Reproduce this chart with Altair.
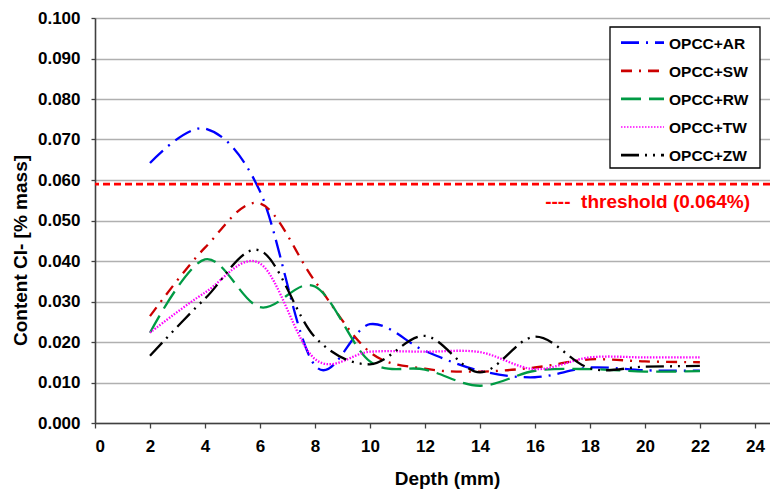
import altair as alt
import pandas as pd

# ---- data ----
depth = [2, 4, 6, 8, 10, 12, 14, 16, 18, 20, 22]
series_names = ["OPCC+AR", "OPCC+SW", "OPCC+RW", "OPCC+TW", "OPCC+ZW"]
ar = [0.0642, 0.0727, 0.0572, 0.0142, 0.0244, 0.0178, 0.0129, 0.0113, 0.0137, 0.0130, 0.0129]
sw = [0.0264, 0.0433, 0.0542, 0.0350, 0.0175, 0.0134, 0.0127, 0.0137, 0.0157, 0.0152, 0.0150]
rw = [0.0223, 0.0404, 0.0286, 0.0337, 0.0152, 0.0132, 0.0092, 0.0129, 0.0133, 0.0127, 0.0128]
tw = [0.0223, 0.0322, 0.0394, 0.0158, 0.0176, 0.0176, 0.0175, 0.0133, 0.0162, 0.0162, 0.0162]
zw = [0.0166, 0.0307, 0.0426, 0.0212, 0.0145, 0.0215, 0.0125, 0.0213, 0.0135, 0.0139, 0.0141]
threshold_value = 0.059
threshold_label = "----\u00a0 threshold (0.064%)"
x_ticks = [0, 2, 4, 6, 8, 10, 12, 14, 16, 18, 20, 22, 24]
y_ticks = [0.0, 0.01, 0.02, 0.03, 0.04, 0.05, 0.06, 0.07, 0.08, 0.09, 0.1]

rows = []
for name, vals in zip(series_names, [ar, sw, rw, tw, zw]):
    for d, v in zip(depth, vals):
        rows.append({"series": name, "depth": d, "value": v})
df = pd.DataFrame(rows)

# ---- styles ----
FONT = "Liberation Sans"
colors = ["#0000FF", "#CC0000", "#009A44", "#FF00FF", "#000000"]
dashes = [[18, 7, 2, 7], [11, 7, 2, 7], [20, 8], [1.5, 1.5], [18, 6, 2, 6, 2, 6]]
widths = [2.3, 2.3, 2.5, 1.0, 2.3]

x_scale = alt.Scale(domain=[0, 24.55], nice=False, zero=False)
y_scale = alt.Scale(domain=[0, 0.1], nice=False)

lines = alt.Chart(df).mark_line(interpolate="cardinal", strokeCap="butt").encode(
    x=alt.X("depth:Q", scale=x_scale,
            axis=alt.Axis(values=x_ticks, format="d", title="Depth (mm)", grid=False,
                          labelFontSize=17, labelFontWeight="bold", labelFont=FONT,
                          labelPadding=10, tickSize=5, labelColor="#000000",
                          titleFontSize=19, titleFontWeight="bold", titleFont=FONT,
                          titleX=352, titleY=61, titleBaseline="alphabetic",
                          titleAlign="center", titleColor="#000000")),
    y=alt.Y("value:Q", scale=y_scale,
            axis=alt.Axis(values=y_ticks, format=".3f", title="Content Cl- [% mass]",
                          grid=True, gridColor="#B0B0B0", gridWidth=1.5,
                          labelFontSize=17, labelFontWeight="bold", labelFont=FONT,
                          labelPadding=11, tickSize=4, labelColor="#000000",
                          titleFontSize=19, titleFontWeight="bold", titleFont=FONT,
                          titleAngle=270, titleX=-75, titleY=232, titleAlign="center",
                          titleBaseline="middle", titleColor="#000000")),
    color=alt.Color("series:N", scale=alt.Scale(domain=series_names, range=colors), legend=None),
    strokeDash=alt.StrokeDash("series:N", scale=alt.Scale(domain=series_names, range=dashes), legend=None),
    strokeWidth=alt.StrokeWidth("series:N", scale=alt.Scale(domain=series_names, range=widths), legend=None),
    detail="series:N",
)

thr = alt.Chart(pd.DataFrame({"t": [threshold_value]})).mark_rule(
    color="#FF0000", strokeWidth=2.7, strokeDash=[7, 4]
).encode(y=alt.Y("t:Q", scale=y_scale))

thr_text = alt.Chart(pd.DataFrame({"label": [threshold_label]})).mark_text(
    align="right", baseline="alphabetic", font=FONT, fontSize=19, fontWeight="bold", color="#FF0000"
).encode(x=alt.value(655), y=alt.value(190), text="label:N")

box = alt.Chart(pd.DataFrame({"b": [1]})).mark_rect(
    fill="white", stroke="#000000", strokeWidth=1.3
).encode(x=alt.value(515), x2=alt.value(665), y=alt.value(9), y2=alt.value(150))

legend_layers = []
for i, name in enumerate(series_names):
    yy = 24.7 + 28.1 * i
    one = pd.DataFrame({"series": [name]})
    legend_layers.append(
        alt.Chart(one).mark_rule(color=colors[i], strokeDash=dashes[i], strokeWidth=widths[i] + 0.4,
                                 strokeCap="butt").encode(
            x=alt.value(526), x2=alt.value(569), y=alt.value(yy))
    )
    legend_layers.append(
        alt.Chart(one).mark_text(align="left", baseline="middle", font=FONT, fontSize=15.5,
                                 fontWeight="bold", color="#000000").encode(
            x=alt.value(574), y=alt.value(yy + 1), text="series:N")
    )

chart = alt.layer(lines, thr, thr_text, box, *legend_layers).properties(
    width=675, height=405,
    padding={"left": 95, "top": 18, "right": 0, "bottom": 71},
    autosize=alt.AutoSizeParams(type="none"),
    background="white",
).configure_view(stroke=None).configure_axis(
    domainColor="#404040", domainWidth=1.6, tickColor="#404040", tickWidth=1.3
)

chart.save("out.html", embed_options={"renderer": "svg", "actions": False})
